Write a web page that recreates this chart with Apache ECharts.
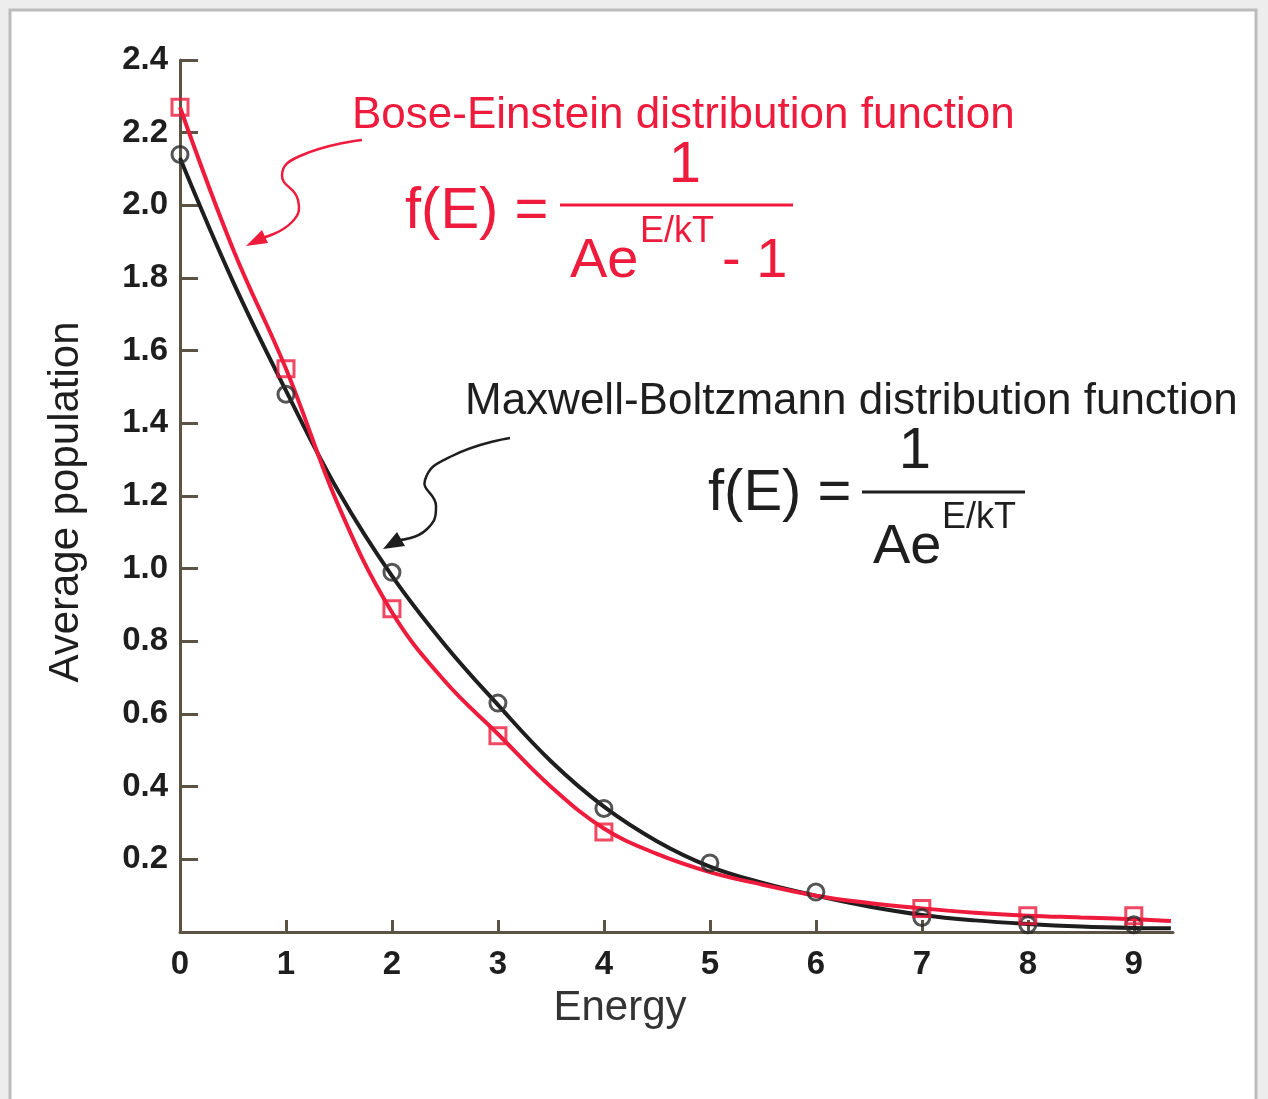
<!DOCTYPE html>
<html>
<head>
<meta charset="utf-8">
<script src="https://cdn.jsdelivr.net/npm/echarts@6/dist/echarts.min.js"></script>
<style>
  html, body { margin: 0; padding: 0; background: #ededed; }
  #main { width: 1268px; height: 1099px; }
</style>
</head>
<body>
<div id="main"></div>
<script>
// energy ticks
var energyTicks = [0, 1, 2, 3, 4, 5, 6, 7, 8, 9];
var popTicks = [0.2, 0.4, 0.6, 0.8, 1.0, 1.2, 1.4, 1.6, 1.8, 2.0, 2.2, 2.4];

// marker values
var mbPoints = [2.14, 1.48, 0.99, 0.63, 0.34, 0.19, 0.11, 0.04, 0.02, 0.02];
var bePoints = [2.27, 1.55, 0.89, 0.54, 0.275, null, null, 0.065, 0.045, 0.045];

// fitted curves, sampled every 0.5
var curveE = [0, 0.5, 1, 1.5, 2, 2.5, 3, 3.5, 4, 4.5, 5, 5.5, 6, 6.5, 7, 7.5, 8, 8.5, 9, 9.35];
var mbCurve = [2.13, 1.79, 1.49, 1.21, 0.98, 0.79, 0.625, 0.47, 0.345, 0.25, 0.18, 0.135, 0.10, 0.07, 0.047, 0.032, 0.022, 0.015, 0.011, 0.01];
var beCurve = [2.27, 1.88, 1.55, 1.17, 0.88, 0.69, 0.545, 0.40, 0.285, 0.215, 0.165, 0.13, 0.10, 0.08, 0.065, 0.053, 0.045, 0.04, 0.035, 0.03];

var RED = '#ee1b3c';
var INK = '#1e1e1e';
var AXIS = '#5b5444';
var FONT = '"Liberation Sans", Arial, sans-serif';

function pairs(xs, ys) {
  var out = [];
  for (var i = 0; i < xs.length; i++) {
    if (ys[i] != null) out.push([xs[i], ys[i]]);
  }
  return out;
}

var chart = echarts.init(document.getElementById('main'));

var option = {
  backgroundColor: '#ededed',
  animation: false,
  grid: { left: 180, right: 1268 - 1173, top: 60, bottom: 167, containLabel: false },
  xAxis: {
    type: 'value', min: 0, max: 9.37,
    axisLine: { lineStyle: { color: AXIS, width: 3 } },
    axisTick: { inside: true, length: 12, customValues: energyTicks, lineStyle: { color: AXIS, width: 3 } },
    axisLabel: { customValues: energyTicks, margin: 16, color: INK, fontSize: 33, fontWeight: 'bold', fontFamily: FONT },
    splitLine: { show: false }
  },
  yAxis: {
    type: 'value', min: 0, max: 2.4, interval: 0.2,
    axisLine: { show: true, lineStyle: { color: AXIS, width: 3 } },
    axisTick: { show: true, inside: true, length: 18, customValues: popTicks, lineStyle: { color: AXIS, width: 3 } },
    axisLabel: {
      customValues: popTicks, margin: 12, color: INK, fontSize: 33, fontWeight: 'bold', fontFamily: FONT,
      formatter: function (v) { return v.toFixed(1); }
    },
    splitLine: { show: false }
  },
  series: [
    {
      name: 'Maxwell-Boltzmann', type: 'line', smooth: 0.4, showSymbol: false,
      data: pairs(curveE, mbCurve), lineStyle: { color: INK, width: 4 }, z: 2
    },
    {
      name: 'Bose-Einstein', type: 'line', smooth: 0.4, showSymbol: false,
      data: pairs(curveE, beCurve), lineStyle: { color: RED, width: 4 }, z: 3
    },
    {
      name: 'MB points', type: 'scatter', symbol: 'circle', symbolSize: 16,
      data: pairs(energyTicks, mbPoints),
      itemStyle: { color: 'rgba(0,0,0,0)', borderColor: '#2a2a2a', borderWidth: 3 }, z: 4
    },
    {
      name: 'BE points', type: 'scatter', symbol: 'rect', symbolSize: 16,
      data: pairs(energyTicks, bePoints),
      itemStyle: { color: 'rgba(0,0,0,0)', borderColor: RED, borderWidth: 3 }, z: 5
    }
  ],
  graphic: [
    // page frame
    { type: 'rect', shape: { x: 10, y: 10, width: 1246, height: 1100 }, style: { fill: '#fff', stroke: '#bcbcbc', lineWidth: 3 }, z: -10 },
    // axis titles
    { type: 'text', x: 66, y: 502, rotation: Math.PI / 2,
      style: { text: 'Average population', font: '42px ' + FONT, fill: INK, textAlign: 'center', textVerticalAlign: 'middle' } },
    { type: 'text', x: 620, y: 1008,
      style: { text: 'Energy', font: '42px ' + FONT, fill: '#333', textAlign: 'center', textVerticalAlign: 'middle' } },

    // Bose-Einstein annotation
    { type: 'text', x: 352, y: 116,
      style: { text: 'Bose-Einstein distribution function', font: '44px ' + FONT, fill: RED, textAlign: 'left', textVerticalAlign: 'middle' } },
    { type: 'text', x: 405, y: 212,
      style: { text: 'f(E) =', font: '58px ' + FONT, fill: RED, textAlign: 'left', textVerticalAlign: 'middle' } },
    { type: 'line', shape: { x1: 560, y1: 205, x2: 793, y2: 205 }, style: { stroke: RED, lineWidth: 3 } },
    { type: 'text', x: 685, y: 166,
      style: { text: '1', font: '58px ' + FONT, fill: RED, textAlign: 'center', textVerticalAlign: 'middle' } },
    { type: 'text', x: 570, y: 262,
      style: { text: 'Ae', font: '56px ' + FONT, fill: RED, textAlign: 'left', textVerticalAlign: 'middle' } },
    { type: 'text', x: 640, y: 232,
      style: { text: 'E/kT', font: '36px ' + FONT, fill: RED, textAlign: 'left', textVerticalAlign: 'middle' } },
    { type: 'text', x: 722, y: 262,
      style: { text: '- 1', font: '56px ' + FONT, fill: RED, textAlign: 'left', textVerticalAlign: 'middle' } },
    { type: 'polyline', shape: { points: [[362, 140], [300, 156], [282, 175], [298, 200], [292, 222], [262, 238]], smooth: 0.5 },
      style: { stroke: RED, lineWidth: 2.5, fill: null } },
    { type: 'polygon', shape: { points: [[246, 246], [262, 230], [268, 243]] }, style: { fill: RED } },

    // Maxwell-Boltzmann annotation
    { type: 'text', x: 465, y: 402,
      style: { text: 'Maxwell-Boltzmann distribution function', font: '44px ' + FONT, fill: INK, textAlign: 'left', textVerticalAlign: 'middle' } },
    { type: 'text', x: 708, y: 494,
      style: { text: 'f(E) =', font: '58px ' + FONT, fill: INK, textAlign: 'left', textVerticalAlign: 'middle' } },
    { type: 'line', shape: { x1: 862, y1: 492, x2: 1025, y2: 492 }, style: { stroke: INK, lineWidth: 3 } },
    { type: 'text', x: 915, y: 452,
      style: { text: '1', font: '58px ' + FONT, fill: INK, textAlign: 'center', textVerticalAlign: 'middle' } },
    { type: 'text', x: 873, y: 548,
      style: { text: 'Ae', font: '56px ' + FONT, fill: INK, textAlign: 'left', textVerticalAlign: 'middle' } },
    { type: 'text', x: 942, y: 518,
      style: { text: 'E/kT', font: '36px ' + FONT, fill: INK, textAlign: 'left', textVerticalAlign: 'middle' } },
    { type: 'polyline', shape: { points: [[510, 438], [452, 456], [425, 480], [436, 506], [426, 530], [400, 540]], smooth: 0.5 },
      style: { stroke: INK, lineWidth: 2.5, fill: null } },
    { type: 'polygon', shape: { points: [[383, 549], [397, 532], [405, 546]] }, style: { fill: INK } }
  ]
};

chart.setOption(option);
</script>
</body>
</html>
